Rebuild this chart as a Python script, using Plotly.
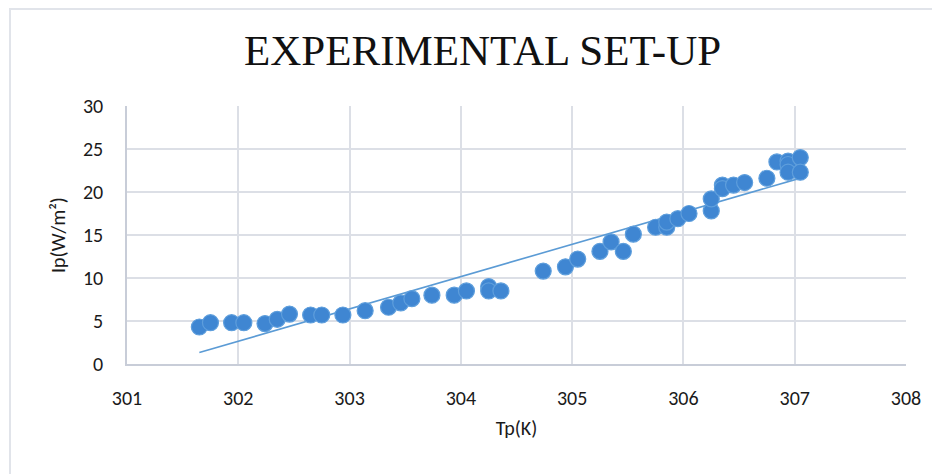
import numpy as np
import plotly.graph_objects as go

tp = [301.65, 301.75, 301.94, 302.05, 302.24, 302.35, 302.46, 302.65, 302.75, 302.94,
      303.14, 303.35, 303.46, 303.56, 303.74, 303.94, 304.05, 304.25, 304.25, 304.36,
      304.74, 304.94, 305.05, 305.25, 305.35, 305.46, 305.55, 305.75, 305.85, 305.85,
      305.95, 306.05, 306.25, 306.25, 306.35, 306.35, 306.45, 306.55, 306.75, 306.84,
      306.94, 306.94, 306.94, 307.05, 307.05]
ip = [4.3, 4.8, 4.8, 4.8, 4.7, 5.2, 5.8, 5.7, 5.7, 5.7,
      6.2, 6.6, 7.1, 7.6, 8.0, 8.0, 8.5, 9.0, 8.5, 8.5,
      10.8, 11.3, 12.2, 13.1, 14.2, 13.1, 15.1, 15.9, 15.9, 16.5,
      16.9, 17.5, 17.8, 19.2, 20.8, 20.4, 20.8, 21.1, 21.6, 23.5,
      23.6, 23.2, 22.3, 24.0, 22.3]

x_ticks = [301, 302, 303, 304, 305, 306, 307, 308]
y_ticks = [0, 5, 10, 15, 20, 25, 30]

# linear trendline (least squares) over the data range
slope, intercept = np.polyfit(tp, ip, 1)
tx = [min(tp), max(tp)]
ty = [slope * v + intercept for v in tx]

tick_font = dict(family="Carlito, Lato, sans-serif", size=20, color="#1A1A1A")

fig = go.Figure()
fig.add_trace(go.Scatter(x=tx, y=ty, mode="lines",
                         line=dict(color="#5B9BD5", width=1.6),
                         hoverinfo="skip", showlegend=False))
fig.add_trace(go.Scatter(x=tp, y=ip, mode="markers",
                         marker=dict(size=16, color="#3F86D2",
                                     line=dict(color="#5E9EDC", width=1.2)),
                         showlegend=False))

L, R, T, B = 119, 42, 98, 118
pw, ph = 940 - L - R, 474 - T - B

fig.update_layout(
    width=940, height=474,
    margin=dict(l=L, r=R, t=T, b=B),
    paper_bgcolor="white", plot_bgcolor="white",
    showlegend=False,
    annotations=[dict(text="EXPERIMENTAL SET-UP", xref="paper", yref="paper",
                      x=0.456, y=1.215, showarrow=False, xanchor="center", yanchor="middle",
                      font=dict(family="Liberation Serif, Times New Roman, serif", size=43,
                                color="#111111"))],
    shapes=[dict(type="rect", xref="paper", yref="paper",
                 x0=(2 - L) / pw, x1=1.2, y0=-0.6, y1=(ph + T - 1) / ph,
                 line=dict(color="#E1E4EA", width=2), fillcolor="rgba(0,0,0,0)", layer="below")],
)
fig.update_xaxes(range=[301, 308], tickvals=x_ticks, ticktext=[str(v) for v in x_ticks],
                 showgrid=True, gridcolor="#DCDFE6", gridwidth=1.5,
                 showline=True, linecolor="#C8CDD8", linewidth=1.5,
                 zeroline=False, ticks="", ticklabelstandoff=15, tickfont=tick_font,
                 title=dict(text="Tp(K)", font=tick_font, standoff=12))
fig.update_yaxes(range=[0, 30], tickvals=y_ticks, ticktext=[str(v) for v in y_ticks],
                 showgrid=True, gridcolor="#DCDFE6", gridwidth=1.5,
                 showline=True, linecolor="#C8CDD8", linewidth=1.5,
                 zeroline=False, ticks="", ticklabelstandoff=18, tickfont=tick_font,
                 title=dict(text="Ip(W/m²)", font=tick_font, standoff=12))

fig.write_html("out.html")
